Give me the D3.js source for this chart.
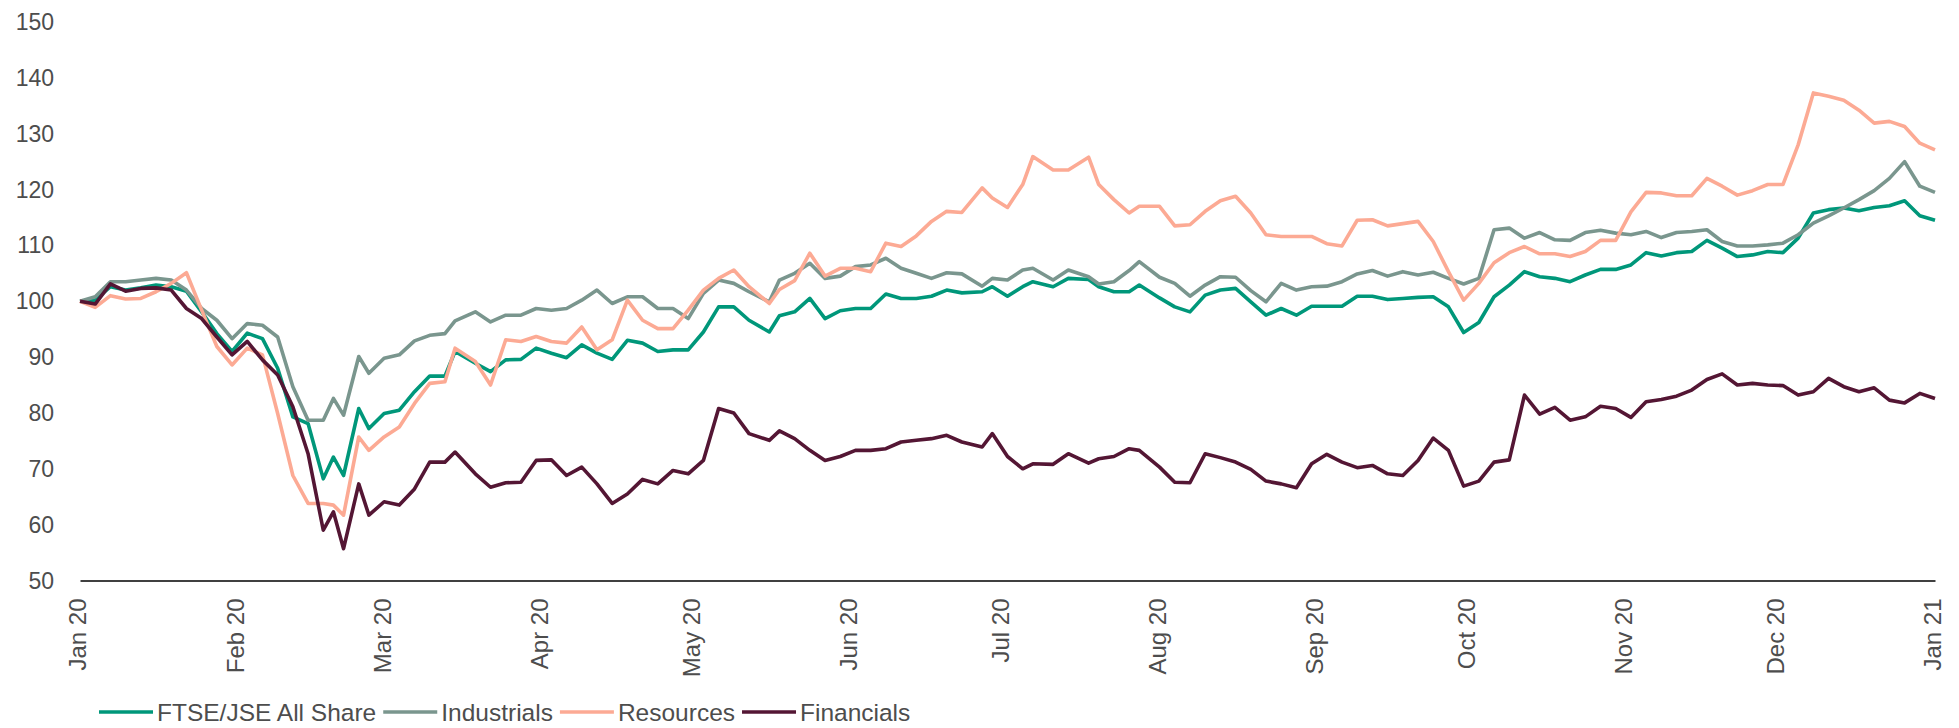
<!DOCTYPE html>
<html>
<head>
<meta charset="utf-8">
<script src="https://cdn.jsdelivr.net/npm/d3@7"></script>
<style>
  body { margin: 0; background: #fff; }
  svg { display: block; font-family: "Liberation Sans", Arial, sans-serif; }
</style>
</head>
<body>
<svg width="1959" height="728"></svg>
<script>
// index levels, rebased to 100 at 1 Jan 2020
const dates = [
  "2020-01-01","2020-01-04","2020-01-07","2020-01-10","2020-01-13","2020-01-16","2020-01-19","2020-01-22","2020-01-25","2020-01-28","2020-01-31",
  "2020-02-03","2020-02-06","2020-02-09","2020-02-12","2020-02-15","2020-02-18","2020-02-20","2020-02-22","2020-02-25","2020-02-27","2020-03-01",
  "2020-03-04","2020-03-07","2020-03-10","2020-03-13","2020-03-15","2020-03-19","2020-03-22","2020-03-25","2020-03-28","2020-03-31",
  "2020-04-03","2020-04-06","2020-04-09","2020-04-12","2020-04-15","2020-04-18","2020-04-21","2020-04-24","2020-04-27","2020-04-30",
  "2020-05-03","2020-05-06","2020-05-09","2020-05-12","2020-05-16","2020-05-18","2020-05-21","2020-05-24","2020-05-27","2020-05-30",
  "2020-06-02","2020-06-05","2020-06-08","2020-06-11","2020-06-14","2020-06-17","2020-06-20","2020-06-23","2020-06-27","2020-06-29","2020-07-02",
  "2020-07-05","2020-07-07","2020-07-11","2020-07-14","2020-07-18","2020-07-20","2020-07-23","2020-07-26","2020-07-28",
  "2020-08-01","2020-08-04","2020-08-07","2020-08-10","2020-08-13","2020-08-16","2020-08-19","2020-08-22","2020-08-25","2020-08-28","2020-08-31",
  "2020-09-03","2020-09-06","2020-09-09","2020-09-12","2020-09-15","2020-09-18","2020-09-21","2020-09-24","2020-09-27","2020-09-30",
  "2020-10-03","2020-10-06","2020-10-09","2020-10-12","2020-10-15","2020-10-18","2020-10-21","2020-10-24","2020-10-27","2020-10-30",
  "2020-11-02","2020-11-05","2020-11-08","2020-11-11","2020-11-14","2020-11-17","2020-11-20","2020-11-23","2020-11-26","2020-11-29",
  "2020-12-02","2020-12-05","2020-12-08","2020-12-11","2020-12-14","2020-12-17","2020-12-20","2020-12-23","2020-12-26","2020-12-29","2021-01-01"
];

const allShare = [
  100, 100.2, 102.6, 102, 102.4, 102.9, 102.6, 101.8, 98.1, 94.2, 91, 94.3, 93.3, 88, 79.3, 78.1, 68.2, 72.1, 68.8, 80.8, 77.2, 79.9,
  80.5, 83.8, 86.6, 86.6, 91, 88.9, 87.4, 89.5, 89.6, 91.6, 90.7, 89.9, 92.2, 90.7, 89.6, 93, 92.5, 91, 91.3, 91.3,
  94.5, 99, 99, 96.6, 94.5, 97.4, 98.1, 100.5, 96.9, 98.3, 98.7, 98.7, 101.3, 100.5, 100.5, 100.9, 102, 101.5, 101.7, 102.6, 100.9,
  102.6, 103.5, 102.6, 104.1, 103.9, 102.6, 101.7, 101.7, 102.9, 100.6, 99, 98.1, 101.1, 102, 102.3, 99.9, 97.5, 98.7, 97.5, 99.1,
  99.1, 99.1, 100.9, 100.9, 100.3, 100.5, 100.7, 100.8, 99, 94.4, 96.2, 100.8, 102.9, 105.3, 104.4, 104.1, 103.5, 104.7, 105.7, 105.7,
  106.5, 108.7, 108.1, 108.7, 108.9, 110.9, 109.5, 108, 108.3, 108.9, 108.7, 111.3, 115.8, 116.4, 116.7, 116.2, 116.8, 117.1, 118, 115.3, 114.5
];

const industrials = [
  100, 100.8, 103.5, 103.5, 103.8, 104.1, 103.8, 102, 98.7, 96.6, 93.3, 96, 95.7, 93.6, 84.7, 78.7, 78.7, 82.6, 79.6, 90.1, 87.1, 89.8,
  90.4, 92.9, 93.9, 94.2, 96.5, 98.1, 96.3, 97.5, 97.5, 98.7, 98.4, 98.7, 100.2, 102, 99.6, 100.8, 100.8, 98.7, 98.7, 96.9,
  101.4, 103.8, 103.2, 101.7, 99.9, 103.8, 105, 106.8, 104.1, 104.5, 106.2, 106.5, 107.7, 105.9, 105, 104.1, 105.1, 104.9, 102.7, 104.1, 103.8,
  105.6, 105.9, 103.8, 105.6, 104.4, 103.1, 103.5, 105.5, 107.1, 104.3, 103.2, 100.9, 102.9, 104.4, 104.3, 101.9, 99.9, 103.2, 102, 102.6,
  102.7, 103.5, 104.9, 105.5, 104.5, 105.3, 104.7, 105.2, 104.1, 103.1, 104.1, 112.8, 113.1, 111.3, 112.3, 111, 110.9, 112.3, 112.7, 112.2,
  111.9, 112.5, 111.4, 112.3, 112.5, 112.8, 110.7, 109.9, 109.9, 110.1, 110.4, 111.9, 114, 115.3, 116.7, 118.2, 119.8, 122, 125, 120.6, 119.5
];

const resources = [
  100, 98.9, 101, 100.4, 100.5, 101.7, 103.2, 105.1, 98.4, 91.9, 88.6, 91.6, 90.4, 79.9, 68.8, 63.8, 63.8, 63.5, 61.7, 75.7, 73.3, 75.7,
  77.5, 81.7, 85.3, 85.6, 91.6, 89.2, 85, 93.1, 92.8, 93.7, 92.8, 92.5, 95.4, 91.3, 93.1, 100.2, 96.6, 95.1, 95.1, 98.4,
  102, 104.1, 105.6, 102.6, 99.6, 102.1, 103.7, 108.6, 104.5, 105.9, 105.9, 105.3, 110.4, 109.8, 111.7, 114.3, 116.1, 115.9, 120.3, 118.5, 116.8,
  120.9, 125.9, 123.5, 123.5, 125.8, 120.9, 118.2, 115.8, 117, 117, 113.5, 113.7, 116.1, 118, 118.8, 115.8, 111.9, 111.6, 111.6, 111.6,
  110.3, 109.9, 114.5, 114.6, 113.5, 113.9, 114.3, 110.7, 105.3, 100.2, 103.2, 106.9, 108.7, 109.8, 108.5, 108.5, 108, 108.9, 110.9, 110.9,
  116, 119.5, 119.4, 118.9, 118.9, 122, 120.6, 119, 119.8, 120.9, 120.9, 128, 137.3, 136.7, 136, 134.2, 131.9, 132.2, 131.3, 128.3, 127.1
];

const financials = [
  100, 99.5, 103.1, 101.8, 102.3, 102.4, 102, 98.7, 96.9, 93.6, 90.4, 92.8, 89.5, 86.8, 81.1, 72.7, 59, 62.3, 55.7, 67.3, 61.7, 64.1,
  63.5, 66.4, 71.2, 71.2, 73, 69.1, 66.7, 67.5, 67.6, 71.5, 71.6, 68.8, 70.3, 67.3, 63.8, 65.5, 68.1, 67.3, 69.7, 69.1,
  71.5, 80.8, 80, 76.3, 75.1, 76.8, 75.4, 73.3, 71.5, 72.2, 73.3, 73.3, 73.6, 74.8, 75.1, 75.4, 76, 74.8, 73.9, 76.3, 72.2,
  70, 70.9, 70.8, 72.7, 71, 71.8, 72.2, 73.6, 73.3, 70.3, 67.6, 67.5, 72.7, 72, 71.2, 69.9, 67.8, 67.3, 66.6, 70.9,
  72.6, 71.2, 70.2, 70.6, 69.1, 68.8, 71.5, 75.5, 73.3, 66.9, 67.8, 71.2, 71.6, 83.2, 79.8, 81, 78.7, 79.3, 81.2, 80.8,
  79.2, 82, 82.4, 83, 84.1, 86, 87, 85, 85.3, 85, 84.9, 83.2, 83.8, 86.2, 84.7, 83.8, 84.5, 82.3, 81.8, 83.5, 82.6
];

const seriesNames = ["FTSE/JSE All Share", "Industrials", "Resources", "Financials"];
const seriesColors = ["#00977a", "#7a968e", "#fcaa94", "#541634"];
const yTicks = [50, 60, 70, 80, 90, 100, 110, 120, 130, 140, 150];

const parseDate = d3.timeParse("%Y-%m-%d");
const xDates = dates.map(parseDate);
const seriesValues = [allShare, industrials, resources, financials];

const svg = d3.select("svg");

const x = d3.scaleTime()
  .domain([parseDate("2020-01-01"), parseDate("2021-01-01")])
  .range([80, 1935]);

const y = d3.scaleLinear()
  .domain([50, 150])
  .range([580.5, 22]);

// y labels only, no axis line or grid
svg.append("g")
  .selectAll("text")
  .data(yTicks)
  .enter()
  .append("text")
  .attr("x", 54)
  .attr("y", d => y(d))
  .attr("dy", "0.35em")
  .attr("text-anchor", "end")
  .attr("font-size", 23)
  .attr("fill", "#4d4d4d")
  .text(d => d);

// x axis
const xAxis = svg.append("g")
  .attr("transform", `translate(0, ${y(50)})`)
  .call(d3.axisBottom(x)
    .ticks(d3.timeMonth.every(1))
    .tickFormat(d3.timeFormat("%b %y"))
    .tickSize(0));

xAxis.select(".domain")
  .attr("stroke", "#404040")
  .attr("stroke-width", 2);

xAxis.selectAll("text")
  .attr("font-family", "Liberation Sans, Arial, sans-serif")
  .attr("font-size", 24)
  .attr("fill", "#4d4d4d")
  .attr("text-anchor", "end")
  .attr("transform", "translate(-2.5, 0) rotate(-90)")
  .attr("x", -18)
  .attr("y", 0)
  .attr("dy", "0.35em");

// lines
const line = d3.line()
  .x((d, i) => x(xDates[i]))
  .y(d => y(d));

svg.append("g")
  .selectAll("path")
  .data(seriesValues)
  .enter()
  .append("path")
  .attr("d", d => line(d))
  .attr("fill", "none")
  .attr("stroke", (d, i) => seriesColors[i])
  .attr("stroke-width", 3.6)
  .attr("stroke-linejoin", "round");

// legend
const legend = svg.append("g").attr("transform", "translate(99, 712)");
let lx = 0;
seriesNames.forEach((name, i) => {
  legend.append("line")
    .attr("x1", lx).attr("x2", lx + 54)
    .attr("y1", 0).attr("y2", 0)
    .attr("stroke", seriesColors[i])
    .attr("stroke-width", 3.5);
  const t = legend.append("text")
    .attr("x", lx + 58)
    .attr("y", 0)
    .attr("dy", "0.35em")
    .attr("font-size", 24.5)
    .attr("fill", "#4d4d4d")
    .text(name);
  lx += 58 + t.node().getComputedTextLength() + 7;
});
</script>
</body>
</html>
